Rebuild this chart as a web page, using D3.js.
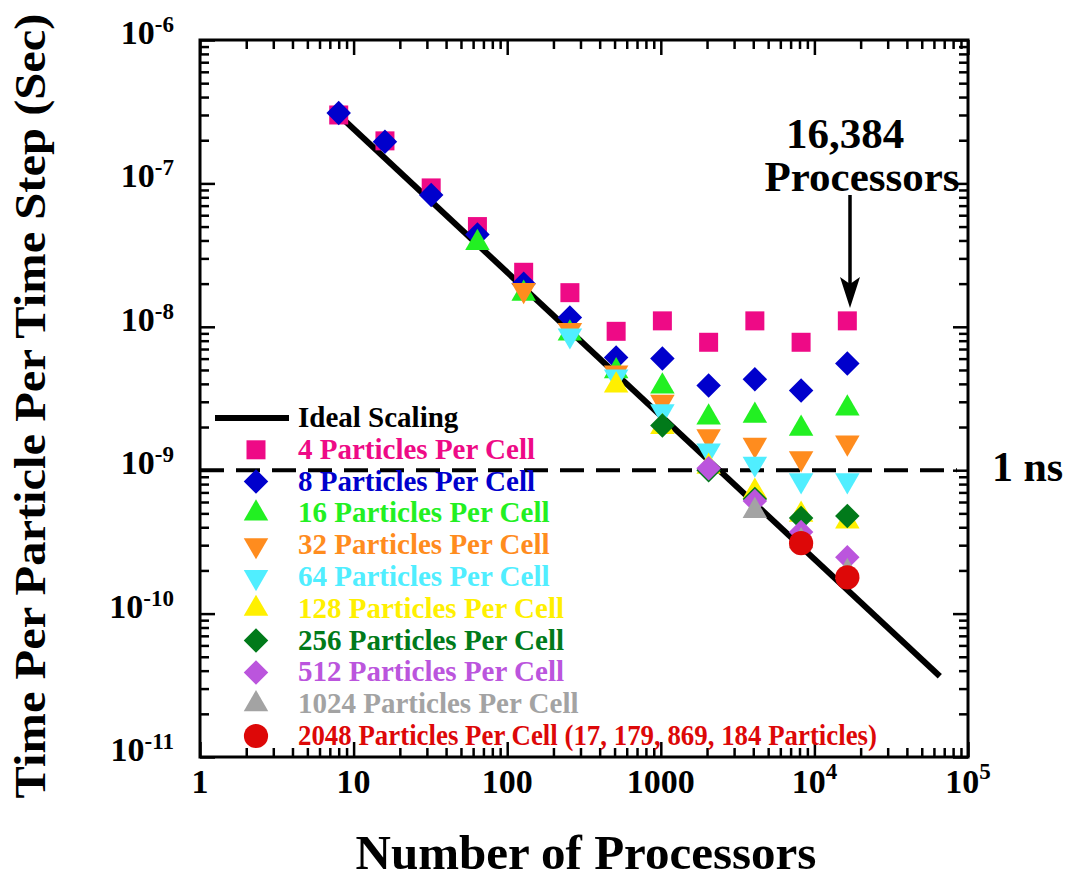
<!DOCTYPE html>
<html>
<head>
<meta charset="utf-8">
<script src="https://cdn.jsdelivr.net/npm/d3@7"></script>
<style>
  body { margin: 0; background: #fff; }
  text { font-family: "Liberation Serif", "Times New Roman", serif; font-weight: bold; }
</style>
</head>
<body>
<div id="chart"></div>
<script>
// processors used in the runs
const processors = [8, 16, 32, 64, 128, 256, 512, 1024, 2048, 4096, 8192, 16384];

// time per particle per time step (sec), one array per particles-per-cell
const ppc4    = [3.0e-7, 1.98e-7, 9.3e-8, 5.0e-8, 2.4e-8, 1.73e-8, 9.3e-9, 1.1e-8, 7.8e-9, 1.1e-8, 7.8e-9, 1.1e-8];
const ppc8    = [3.1e-7, 1.95e-7, 8.3e-8, 4.4e-8, 2.0e-8, 1.16e-8, 6.1e-9, 6.0e-9, 3.9e-9, 4.3e-9, 3.6e-9, 5.55e-9];
const ppc16   = [null, null, null, 3.85e-8, 1.7e-8, 9.0e-9, 4.9e-9, 3.84e-9, 2.33e-9, 2.4e-9, 1.95e-9, 2.7e-9];
const ppc32   = [null, null, null, null, 1.8e-8, 9.5e-9, 4.8e-9, 3.0e-9, 1.72e-9, 1.5e-9, 1.21e-9, 1.56e-9];
const ppc64   = [null, null, null, null, null, 8.7e-9, 4.5e-9, 2.57e-9, 1.37e-9, 1.11e-9, 8.5e-10, 8.5e-10];
const ppc128  = [null, null, null, null, null, null, 3.9e-9, 2.0e-9, 1.06e-9, 7.1e-10, 4.9e-10, 4.4e-10];
const ppc256  = [null, null, null, null, null, null, null, 2.05e-9, 1.0e-9, 6.3e-10, 4.65e-10, 4.8e-10];
const ppc512  = [null, null, null, null, null, null, null, null, 1.03e-9, 6.1e-10, 3.7e-10, 2.47e-10];
const ppc1024 = [null, null, null, null, null, null, null, null, null, 5.2e-10, 3.2e-10, 1.95e-10];
const ppc2048 = [null, null, null, null, null, null, null, null, null, null, 3.1e-10, 1.79e-10];

// ideal scaling line endpoints
const idealX = [8, 65536];
const idealY = [3.0e-7, 3.66e-11];

const oneNs = 1e-9;

const seriesNames = ['4 Particles Per Cell', '8 Particles Per Cell', '16 Particles Per Cell',
  '32 Particles Per Cell', '64 Particles Per Cell', '128 Particles Per Cell', '256 Particles Per Cell',
  '512 Particles Per Cell', '1024 Particles Per Cell', '2048 Particles Per Cell (17, 179, 869, 184 Particles)'];
const seriesValues = [ppc4, ppc8, ppc16, ppc32, ppc64, ppc128, ppc256, ppc512, ppc1024, ppc2048];
const seriesColors = ['#ee0a86', '#0000cc', '#22f022', '#ff8c1e', '#50eeff', '#fff000', '#017a1a', '#bb55dd', '#a3a3a3', '#dd0808'];
const seriesShapes = ['square', 'diamond', 'up', 'down', 'down', 'up', 'diamond', 'diamond', 'up', 'circle'];

const xTickValues = [1, 10, 100, 1000, 1e4, 1e5];
const xTickLabels = [['1'], ['10'], ['100'], ['1000'], ['10', '4'], ['10', '5']];
const yTickValues = [1e-6, 1e-7, 1e-8, 1e-9, 1e-10, 1e-11];
const yTickLabels = [['10', '-6'], ['10', '-7'], ['10', '-8'], ['10', '-9'], ['10', '-10'], ['10', '-11']];

const W = 1065, H = 879;
const margin = { left: 200, right: 968, top: 40, bottom: 757 };

const svg = d3.select('#chart').append('svg')
    .attr('width', W)
    .attr('height', H);

const x = d3.scaleLog().domain([1, 1e5]).range([margin.left, margin.right]);
const y = d3.scaleLog().domain([1e-11, 1e-6]).range([margin.bottom, margin.top]);

// minor ticks 2..9 of each decade
function minors(lo, hi) {
  let out = [];
  for (let e = lo; e < hi; e++) {
    for (let m = 2; m <= 9; m++) out.push(m * Math.pow(10, e));
  }
  return out;
}
const xMinor = minors(0, 5);
const yMinor = minors(-11, -6);

// ticks on all four sides, pointing inward
function tickAxis(axisFn, scale, values, len, tr) {
  svg.append('g')
      .attr('transform', tr)
      .call(axisFn(scale).tickValues(values).tickSize(len).tickFormat(''))
      .call(g => g.select('.domain').remove())
      .call(g => g.selectAll('line').attr('stroke', '#000').attr('stroke-width', 2.5));
}
tickAxis(d3.axisBottom, x, xTickValues, -15, `translate(0,${margin.bottom})`);
tickAxis(d3.axisBottom, x, xMinor, -9, `translate(0,${margin.bottom})`);
tickAxis(d3.axisTop, x, xTickValues, -15, `translate(0,${margin.top})`);
tickAxis(d3.axisTop, x, xMinor, -9, `translate(0,${margin.top})`);
tickAxis(d3.axisLeft, y, yTickValues, -15, `translate(${margin.left},0)`);
tickAxis(d3.axisLeft, y, yMinor, -9, `translate(${margin.left},0)`);
tickAxis(d3.axisRight, y, yTickValues, -15, `translate(${margin.right},0)`);
tickAxis(d3.axisRight, y, yMinor, -9, `translate(${margin.right},0)`);

svg.append('rect')
    .attr('x', margin.left).attr('y', margin.top)
    .attr('width', margin.right - margin.left).attr('height', margin.bottom - margin.top)
    .attr('fill', 'none').attr('stroke', '#000').attr('stroke-width', 3);

// x tick labels
xTickValues.forEach((v, i) => {
  let t = svg.append('text')
      .attr('x', x(v)).attr('y', margin.bottom + 36)
      .attr('text-anchor', 'middle')
      .attr('font-size', 34);
  t.append('tspan').text(xTickLabels[i][0]);
  if (xTickLabels[i][1]) {
    t.append('tspan').attr('font-size', 23).attr('dy', -14).text(xTickLabels[i][1]);
  }
});

// y tick labels
yTickValues.forEach((v, i) => {
  let t = svg.append('text')
      .attr('x', 174).attr('y', y(v) + 4)
      .attr('text-anchor', 'end')
      .attr('font-size', 34);
  t.append('tspan').text(yTickLabels[i][0]);
  t.append('tspan').attr('font-size', 23).attr('dy', -12).text(yTickLabels[i][1]);
});

// axis titles
svg.append('text')
    .attr('x', 586).attr('y', 869)
    .attr('text-anchor', 'middle')
    .attr('font-size', 49)
    .text('Number of Processors');

svg.append('text')
    .attr('transform', `translate(45,406) rotate(-90)`)
    .attr('text-anchor', 'middle')
    .attr('font-size', 45)
    .attr('textLength', 785)
    .attr('lengthAdjust', 'spacingAndGlyphs')
    .text('Time Per Particle Per Time Step (Sec)');

// 1 ns reference line
svg.append('line')
    .attr('x1', margin.left).attr('x2', 957)
    .attr('y1', y(oneNs)).attr('y2', y(oneNs))
    .attr('stroke', '#000').attr('stroke-width', 4)
    .attr('stroke-dasharray', '24,12');

svg.append('text')
    .attr('x', 992).attr('y', y(oneNs) + 11)
    .attr('font-size', 42)
    .text('1 ns');

// ideal scaling
const line = d3.line().x(d => x(d[0])).y(d => y(d[1]));
svg.append('path')
    .datum(idealX.map((v, i) => [v, idealY[i]]))
    .attr('d', line)
    .attr('fill', 'none')
    .attr('stroke', '#000')
    .attr('stroke-width', 6);

// marker shapes
function shapePath(shape) {
  if (shape === 'square') return d3.symbol(d3.symbolSquare, 361)();
  if (shape === 'diamond') return d3.symbol(d3.symbolSquare, 300)();
  if (shape === 'circle') return d3.symbol(d3.symbolCircle, 460)();
  return d3.symbol(d3.symbolTriangle, 260)();
}
function shapeRotate(shape) {
  if (shape === 'diamond') return 45;
  if (shape === 'down') return 180;
  return 0;
}

seriesValues.forEach((vals, s) => {
  let pts = processors.map((p, i) => [p, vals[i]]).filter(d => d[1] != null);
  svg.append('g')
      .selectAll('path')
      .data(pts)
      .join('path')
      .attr('d', shapePath(seriesShapes[s]))
      .attr('transform', d => `translate(${x(d[0])},${y(d[1])}) rotate(${shapeRotate(seriesShapes[s])})`)
      .attr('fill', seriesColors[s]);
});

// legend
const legend = svg.append('g');
const rowH = 31.8;
const ly0 = 418;
legend.append('line')
    .attr('x1', 215).attr('x2', 289)
    .attr('y1', ly0).attr('y2', ly0)
    .attr('stroke', '#000').attr('stroke-width', 6);
legend.append('text')
    .attr('x', 298).attr('y', ly0 + 9)
    .attr('font-size', 29)
    .text('Ideal Scaling');

seriesNames.forEach((name, s) => {
  let ly = ly0 + rowH * (s + 1);
  legend.append('path')
      .attr('d', shapePath(seriesShapes[s]))
      .attr('transform', `translate(256,${ly}) rotate(${shapeRotate(seriesShapes[s])})`)
      .attr('fill', seriesColors[s]);
  let t = legend.append('text')
      .attr('x', 298).attr('y', ly + 9)
      .attr('font-size', 29)
      .attr('fill', seriesColors[s])
      .text(name);
  // the long last entry is squeezed in the original
  if (s === seriesNames.length - 1) {
    t.attr('textLength', 579).attr('lengthAdjust', 'spacingAndGlyphs');
  }
});

// 16,384 annotation
svg.append('text')
    .attr('x', 845).attr('y', 148)
    .attr('text-anchor', 'middle')
    .attr('font-size', 43)
    .text('16,384');
svg.append('text')
    .attr('x', 862).attr('y', 191)
    .attr('text-anchor', 'middle')
    .attr('font-size', 43)
    .text('Processors');

svg.append('line')
    .attr('x1', 850).attr('x2', 850)
    .attr('y1', 195).attr('y2', 285)
    .attr('stroke', '#000').attr('stroke-width', 3.5);
svg.append('path')
    .attr('d', d3.line()([[840, 277], [850, 308], [860, 277], [850, 284]]) + 'Z')
    .attr('fill', '#000');
</script>
</body>
</html>
